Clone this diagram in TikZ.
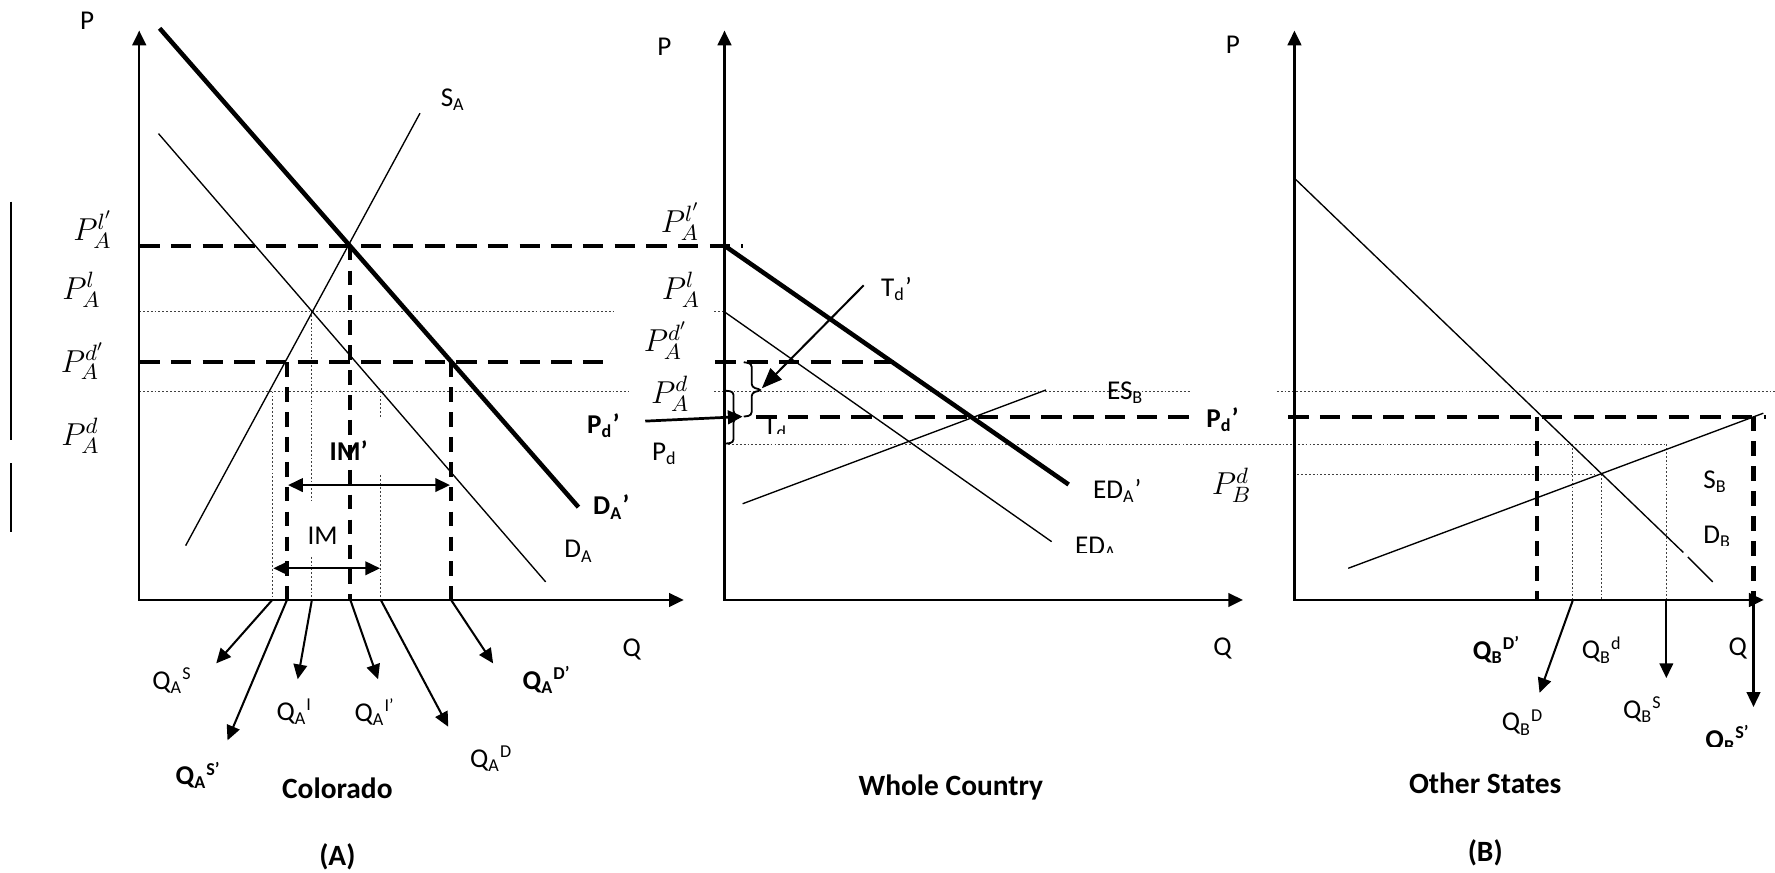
\RequirePackage{fix-cm}
\documentclass[tikz,border=0pt]{standalone}
\usepackage{fontspec}
\setmainfont{Carlito}
\usetikzlibrary{arrows.meta}
\begin{document}
\begin{tikzpicture}[x=0.5pt,y=-0.5pt,
  mytip/.tip={Triangle[length=6.5pt,width=6pt]},
  bigtip/.tip={Triangle[length=9pt,width=7pt]},
  axisline/.style={line width=1.1pt,{mytip}-{mytip}},
  curve/.style={line width=0.6pt},
  heavy/.style={line width=2pt},
  hdash/.style={line width=1.8pt,dash pattern=on 9pt off 5pt},
  vdash/.style={line width=1.8pt,dash pattern=on 6.5pt off 4.5pt},
  dotline/.style={line width=0.45pt,black!75,dash pattern=on 0.8pt off 0.9pt},
  qarrow/.style={line width=0.9pt,-{mytip}},
  dblarrow/.style={line width=0.9pt,{mytip}-{mytip}},
  bar/.style={line width=0.8pt},
  brc/.style={line width=0.8pt,rounded corners=1.5pt},
  lbl/.style={inner sep=0pt,font=\fontsize{12}{14}\selectfont},
  blbl/.style={inner sep=0pt,font=\fontsize{12}{14}\selectfont\bfseries},
  mlbl/.style={inner sep=0pt,font=\fontsize{14}{16}\selectfont},
  ttl/.style={inner sep=0pt,font=\fontsize{13}{15}\selectfont\bfseries}
]
\useasboundingbox (0,0) rectangle (1568,771);

% ================= Panel A (Colorado) =================
\coordinate (Atop) at (123,27);
\coordinate (Ao) at (123,530);
\coordinate (Aend) at (604,530);

\draw[bar] (10,178) -- (10,389);
\draw[bar] (10,409) -- (10,470);

% dotted guides
\draw[dotline] (123,275) -- (544,275);
\draw[dotline] (123,346) -- (556,346);
\draw[dotline] (241,346) -- (241,530);
\draw[dotline] (275.5,275) -- (275.5,442);
\draw[dotline] (275.5,492) -- (275.5,530);
\draw[dotline] (336,346) -- (336,369.5);
\draw[dotline] (336,420) -- (336,530);

% curves
\coordinate (DAp1) at (141,25);   \coordinate (DAp2) at (511,448);
\coordinate (DA1) at (140,118);   \coordinate (DA2) at (482,514);
\coordinate (SA1) at (164,482);   \coordinate (SA2) at (371,100);
\draw[heavy] (DAp1) -- (DAp2);
\draw[curve] (DA1) -- (DA2);
\draw[curve] (SA1) -- (SA2);

\node[blbl] (IMp) at (308,398) {IM’};

% dashed levels
\draw[hdash] (123,217) -- (656,217);
\draw[hdash] (123,320) -- (533,320);
\draw[vdash] (309.5,217) -- (309.5,530);
\draw[vdash] (253.5,320) -- (253.5,530);
\draw[vdash] (398.5,320) -- (398.5,530);

% import arrows
\draw[dblarrow] (254.5,428.5) -- (397.5,428.5);
\draw[dblarrow] (241.5,502) -- (335.7,502);

\draw[axisline] (Atop) -- (Ao) -- (Aend);

% arrows to quantity labels
\coordinate (aS1) at (240.5,530);  \coordinate (aS2) at (191,586);
\coordinate (aSp1) at (253.5,530); \coordinate (aSp2) at (201,654);
\coordinate (aI1) at (275.5,530);  \coordinate (aI2) at (263,600);
\coordinate (aIp1) at (309.5,530); \coordinate (aIp2) at (334,600);
\coordinate (aD1) at (336.4,530);  \coordinate (aD2) at (396,642);
\coordinate (aDp1) at (398.5,530); \coordinate (aDp2) at (435.6,586);
\draw[qarrow] (aS1) -- (aS2);
\draw[qarrow] (aSp1) -- (aSp2);
\draw[qarrow] (aI1) -- (aI2);
\draw[qarrow] (aIp1) -- (aIp2);
\draw[qarrow] (aD1) -- (aD2);
\draw[qarrow] (aDp1) -- (aDp2);

% labels A
\node[lbl] (AP) at (77,18) {P};
\node[lbl] (AQ) at (558,574) {Q};
\node[mlbl] (APlp) at (82,203) {$P_A^{l'}$};
\node[mlbl] (APl) at (72,256) {$P_A^{l}$};
\node[mlbl] (APdp) at (73,319) {$P_A^{d'}$};
\node[mlbl] (APd) at (71,385) {$P_A^{d}$};
\node[lbl] (SAl) at (400,88) {S\textsubscript{A}};
\node[lbl] (IM) at (285,473) {IM};
\node[blbl] (DApl) at (540,448) {D\textsubscript{A}’};
\node[lbl] (DAl) at (511,487) {D\textsubscript{A}};
\node[lbl] (QAS) at (152,601) {Q\textsubscript{A}\textsuperscript{S}};
\node[blbl] (QASp) at (175,685) {Q\textsubscript{A}\textsuperscript{S’}};
\node[lbl] (QAI) at (260,629) {Q\textsubscript{A}\textsuperscript{I}};
\node[lbl] (QAIp) at (331,629) {Q\textsubscript{A}\textsuperscript{I’}};
\node[lbl] (QAD) at (434,670) {Q\textsubscript{A}\textsuperscript{D}};
\node[blbl] (QADp) at (483,601) {Q\textsubscript{A}\textsuperscript{D’}};
\node[ttl] (Col) at (298,696) {Colorado};
\node[ttl] (Alab) at (298,757) {(A)};

% ================= Middle panel (Whole Country) =================
\coordinate (Mtop) at (640,27);
\coordinate (Mo) at (640,530);
\coordinate (Mend) at (1098,530);

\draw[dotline] (631,275) -- (640,275);
\draw[dotline] (631,346) -- (1051,346);
\draw[dotline] (640,392.5) -- (1472,392.5);

\coordinate (EDp1) at (640,217);  \coordinate (EDp2) at (944,428);
\coordinate (ED1) at (640,275.5); \coordinate (ED2) at (929,478.5);
\coordinate (ES1) at (656,445);   \coordinate (ES2) at (924,344.5);
\draw[heavy] (EDp1) -- (EDp2);
\draw[curve] (ED1) -- (ED2);
\draw[curve] (ES1) -- (ES2);

\draw[hdash] (632,320) -- (792,320);
\draw[hdash] (668,368) -- (1051,368);

% braces
\draw[brc] (657,320) -- (664,321) -- (664,342) -- (673,344.5) -- (664,347) -- (664,367) -- (657,368);
\draw[brc] (640,345) -- (648,346) -- (648,366) -- (655,368) -- (648,370) -- (648,391) -- (640,392);

\draw[axisline] (Mtop) -- (Mo) -- (Mend);

\coordinate (Td1) at (763,252); \coordinate (Td2) at (673,343);
\draw[line width=0.9pt,-{bigtip}] (Td1) -- (Td2);
\coordinate (Pd1) at (570,372); \coordinate (Pd2) at (656,368);
\draw[line width=1.2pt,-{mytip}] (Pd1) -- (Pd2);

\node[lbl] (MP) at (587,41) {P};
\node[lbl] (MQ) at (1080,573) {Q};
\node[mlbl] (MPlp) at (601,196) {$P_A^{l'}$};
\node[mlbl] (MPl) at (601.5,256) {$P_A^{l}$};
\node[mlbl] (MPdp) at (588,301) {$P_A^{d'}$};
\node[mlbl] (MPd) at (592,348) {$P_A^{d}$};
\node[blbl] (MPdpl) at (533,376) {P\textsubscript{d}’};
\node[lbl] (MPdl) at (587,401) {P\textsubscript{d}};
\node[lbl] (Tdp) at (792,255) {T\textsubscript{d}’};
\begin{scope}
  \clip (660,352) rectangle (712,383);
  \node[lbl] (Td) at (685,378) {T\textsubscript{d}};
\end{scope}
\node[lbl] (ESB) at (994,347) {ES\textsubscript{B}};
\node[blbl] (Pdpr) at (1080,371) {P\textsubscript{d}’};
\node[lbl] (EDAp) at (987,434) {ED\textsubscript{A}’};
\begin{scope}
  \clip (920,455) rectangle (1020,488);
  \node[lbl] (EDA) at (968,484) {ED\textsubscript{A}};
\end{scope}
\node[ttl] (WC) at (840,696) {Whole Country};

% ================= Panel B (Other States) =================
\coordinate (Btop) at (1143.5,27);
\coordinate (Bo) at (1143.5,530);
\coordinate (Bend) at (1558,530);

\draw[dotline] (1128,346) -- (1568,346);
\draw[dotline] (1146,419) -- (1415,419);
\draw[dotline] (1389.5,392.5) -- (1389.5,530);
\draw[dotline] (1415,419) -- (1415,530);
\draw[dotline] (1472,392.5) -- (1472,530);

\coordinate (DB1) at (1143.5,157.5); \coordinate (DBg1) at (1487,488);
\coordinate (DBg2) at (1491,492);    \coordinate (DB2) at (1513,514);
\coordinate (SB1) at (1191,502);     \coordinate (SB2) at (1557.7,365);
\draw[curve] (DB1) -- (DBg1);
\draw[curve] (DBg2) -- (DB2);
\draw[curve] (SB1) -- (SB2);

\draw[hdash] (1138,368) -- (1560,368);
\draw[vdash] (1358,368) -- (1358,530);
\draw[vdash] (1549,368) -- (1549,530);

\draw[axisline] (Btop) -- (Bo) -- (Bend);

\coordinate (bD1) at (1389.5,530); \coordinate (bD2) at (1360,612);
\coordinate (bS1) at (1472,530);   \coordinate (bS2) at (1472,599);
\coordinate (bSp1) at (1549,530);  \coordinate (bSp2) at (1549,624.5);
\draw[qarrow] (bD1) -- (bD2);
\draw[qarrow] (bS1) -- (bS2);
\draw[qarrow] (bSp1) -- (bSp2);

\node[lbl] (BP) at (1089,40) {P};
\node[lbl] (BQ) at (1535,573) {Q};
\node[mlbl] (PBd) at (1088,428.5) {$P_B^{d}$};
\node[lbl] (SBl) at (1515,425.5) {S\textsubscript{B}};
\begin{scope}
  \clip (1490,450) rectangle (1545,481.5);
  \node[lbl] (DBl) at (1517,474) {D\textsubscript{B}};
\end{scope}
\node[blbl] (QBDp) at (1322,574) {Q\textsubscript{B}\textsuperscript{D’}};
\node[lbl] (QBd) at (1415,574) {Q\textsubscript{B}\textsuperscript{d}};
\node[lbl] (QBD) at (1345,638) {Q\textsubscript{B}\textsuperscript{D}};
\node[lbl] (QBS) at (1451,627) {Q\textsubscript{B}\textsuperscript{S}};
\begin{scope}
  \clip (1495,625) rectangle (1560,659);
  \node[blbl,anchor=base] (QBSp) at (1526,661) {Q\textsubscript{B}\textsuperscript{S’}};
\end{scope}
\node[ttl] (OS) at (1312,692) {Other States};
\node[ttl] (Blab) at (1312,753) {(B)};
\end{tikzpicture}
\end{document}
